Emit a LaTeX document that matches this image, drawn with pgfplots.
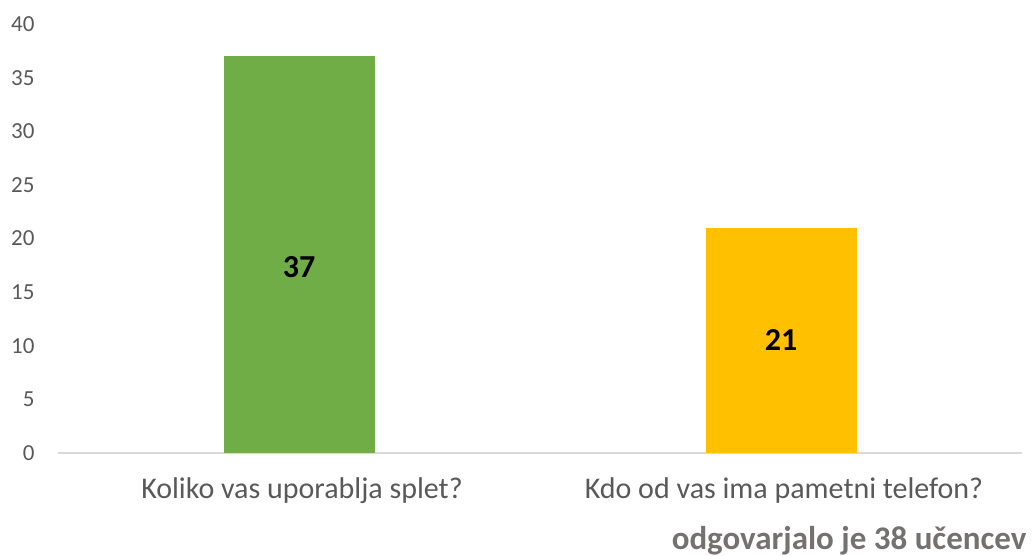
\documentclass[border=0pt]{standalone}
\usepackage{pgfplots}
\pgfplotsset{compat=1.18}
\usepackage{fontspec}
\setmainfont{Carlito}
\definecolor{barGreen}{HTML}{70AD47}
\definecolor{barYellow}{HTML}{FFC000}
\definecolor{tickGray}{HTML}{595959}
\definecolor{noteGray}{HTML}{767171}
\definecolor{axisGray}{HTML}{D9D9D9}
\begin{document}
\begin{tikzpicture}[x=1pt,y=1pt]
\path[use as bounding box] (0,0) rectangle (1035,556);
\begin{axis}[
  at={(58pt,103pt)}, anchor=south west,
  scale only axis, width=964pt, height=429pt,
  xmin=-0.5, xmax=1.5, ymin=0, ymax=40,
  ytick={0,5,...,40},
  xtick={0,1}, xticklabels={Koliko vas uporablja splet?, Kdo od vas ima pametni telefon?},
  axis x line*=bottom, axis y line*=left,
  x axis line style={axisGray, line width=1.3pt, -},
  y axis line style={draw=none},
  major tick length=0pt,
  tick label style={text=tickGray},
  /pgf/number format/assume math mode=true,
  yticklabel style={font=\fontsize{23}{28}\selectfont, anchor=east, xshift=-20pt},
  xticklabel style={font=\fontsize{30}{36}\selectfont, yshift=-21pt, xshift=3pt},
  ybar, bar width=151pt, bar shift=0pt,
  clip=false,
]
\addplot[draw=none, fill=barGreen] coordinates {(0,37)};
\addplot[draw=none, fill=barYellow] coordinates {(1,21)};
\node[font=\fontsize{32}{38}\selectfont\bfseries] at (axis cs:0,17.3) {37};
\node[font=\fontsize{32}{38}\selectfont\bfseries] at (axis cs:1,10.5) {21};
\end{axis}
\node[anchor=east, font=\fontsize{33}{40}\selectfont\bfseries, text=noteGray] at (1030,15) {odgovarjalo je 38 učencev};
\end{tikzpicture}
\end{document}
